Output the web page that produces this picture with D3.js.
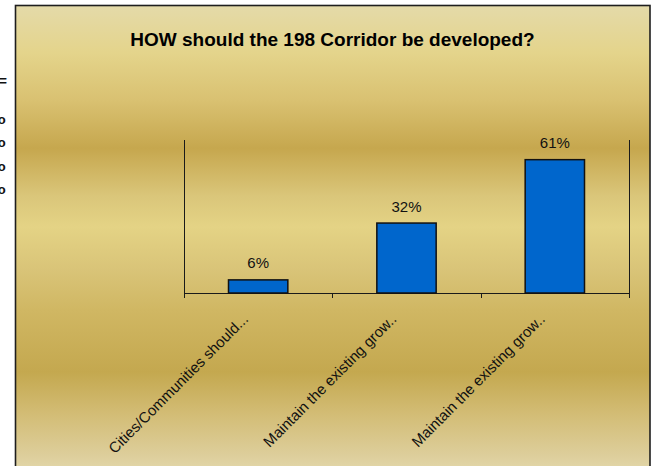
<!DOCTYPE html>
<html>
<head>
<meta charset="utf-8">
<script src="https://cdn.jsdelivr.net/npm/d3@7"></script>
<style>
html,body{margin:0;padding:0;background:#fff;}
svg{display:block;font-family:"Liberation Sans",Arial,sans-serif;}
</style>
</head>
<body>
<svg id="chart" width="653" height="466"></svg>
<script>
const title = "HOW should the 198 Corridor be developed?";
const categories = ["Cities/Communities should...", "Maintain the existing grow..", "Maintain the existing grow.."];
const values = [6, 32, 61];
const valueLabels = ["6%", "32%", "61%"];
const yDomain = [0, 70];
const sideFragments = ["=", "o", "o", "o", "o"];

(function(){
const svg = d3.select("#chart");
const W = 653, H = 466;

// background gradient
const defs = svg.append("defs");
const grad = defs.append("linearGradient").attr("id","gold").attr("x1",0).attr("y1",0).attr("x2",0).attr("y2",1);
[[0,"#e4daa9"],[0.10,"#e4d48b"],[0.20,"#d9c171"],[0.30,"#c6a74e"],[0.40,"#dac67a"],[0.465,"#e4d385"],
 [0.555,"#d9c478"],[0.64,"#d0b763"],[0.77,"#c4a84f"],[0.86,"#d3bd76"],[0.945,"#ddce9b"],[1,"#e7ddb4"]]
 .forEach(s => grad.append("stop").attr("offset", s[0]).attr("stop-color", s[1]));

svg.append("rect").attr("x",15.5).attr("y",5.5).attr("width",634.5).attr("height",H+10)
  .attr("fill","url(#gold)").attr("stroke","#1e1e1e").attr("stroke-width",1.6);

// clipped fragments at the left edge
const fragY = d3.scalePoint().domain(d3.range(sideFragments.length)).range([100, 194]);
svg.append("g").selectAll("text").data(sideFragments).join("text")
  .attr("x", (d,i) => i === 0 ? 7 : 5.8)
  .attr("y", (d,i) => i === 0 ? 85.5 : fragY(i))
  .attr("text-anchor","end")
  .attr("font-size", (d,i) => i === 0 ? 15 : 13)
  .attr("font-weight", "bold")
  .attr("fill","#111")
  .text(d => d);

// title
svg.append("text").attr("x",332.5).attr("y",46).attr("text-anchor","middle")
  .attr("font-size",19).attr("font-weight","bold").attr("fill","#000").text(title);

// scales
const pLeft = 184, pRight = 629, pTop = 140, pBase = 293;
const idx = d3.range(categories.length);
const x = d3.scaleBand().domain(idx).range([pLeft, pRight]).padding(0);
const y = d3.scaleLinear().domain(yDomain).range([pBase, pTop]);

const axisColor = "#1a1a1a";
const xAxis = d3.axisBottom(x).tickSize(0).tickFormat("");
const gx = svg.append("g").attr("transform",`translate(0,${pBase})`).call(xAxis);
gx.select(".domain").attr("stroke",axisColor).attr("stroke-width",1).attr("d",`M${pLeft},0.5H${pRight}`);
const bounds = idx.map(i => x(i)).concat([pRight]);
gx.selectAll("line.bt").data(bounds).join("line").attr("class","bt")
  .attr("x1",d=>Math.round(d)+0.5).attr("x2",d=>Math.round(d)+0.5).attr("y1",0).attr("y2",5)
  .attr("stroke",axisColor).attr("stroke-width",1);

// vertical side lines
svg.append("g").selectAll("line").data([pLeft, pRight]).join("line")
  .attr("x1",d=>Math.round(d)+0.5).attr("x2",d=>Math.round(d)+0.5)
  .attr("y1",y(yDomain[1])).attr("y2",pBase)
  .attr("stroke",axisColor).attr("stroke-width",1);

// bars
const bw = x.bandwidth()*0.4;
svg.append("g").selectAll("rect").data(values).join("rect")
  .attr("x",(d,i)=>x(i)+x.bandwidth()/2-bw/2)
  .attr("y",d=>y(d))
  .attr("width",bw)
  .attr("height",d=>pBase-y(d))
  .attr("fill","#0066cc").attr("stroke","#111").attr("stroke-width",1.5);

// value labels
svg.append("g").selectAll("text").data(values).join("text")
  .attr("x",(d,i)=>x(i)+x.bandwidth()/2)
  .attr("y",d=>y(d)-11.5)
  .attr("text-anchor","middle").attr("font-size",15).attr("fill","#111")
  .text((d,i)=>valueLabels[i]);

// category labels
svg.append("g").selectAll("text").data(categories).join("text")
  .attr("transform",(d,i)=>`translate(${x(i)+x.bandwidth()/2-9},320) rotate(-45)`)
  .attr("text-anchor","end").attr("font-size",15).attr("fill","#111")
  .text(d=>d);
})();
</script>
</body>
</html>
